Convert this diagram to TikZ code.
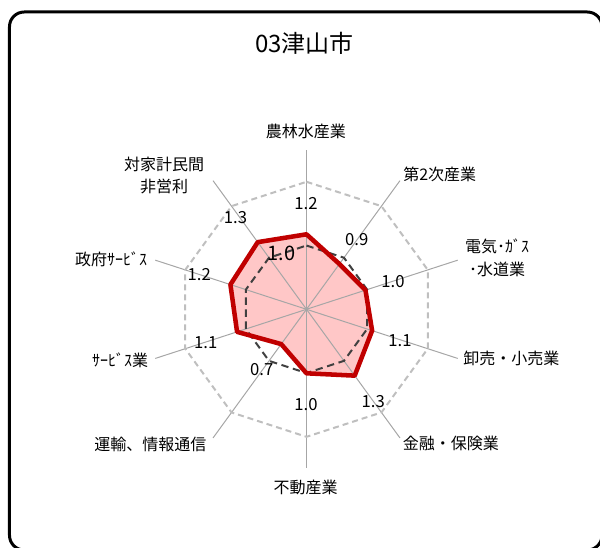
\documentclass[tikz,border=0pt]{standalone}
\usepackage{fontspec}
\setmainfont{Noto Sans CJK JP}
\definecolor{axisgray}{HTML}{A6A6A6}
\definecolor{gridgray}{HTML}{BFBFBF}
\definecolor{zenkoku}{HTML}{404040}
\definecolor{tsuyama}{HTML}{C00000}
\definecolor{tsuyamafill}{HTML}{FFC7C7}
\begin{document}
\begin{tikzpicture}[x=0.75pt, y=0.75pt,
    axisline/.style={axisgray, line width=0.75pt},
    catlabel/.style={font=\fontsize{12}{17}\selectfont, inner sep=0pt, align=center},
    numlabel/.style={font=\fontsize{12.5}{14}\selectfont, inner sep=0pt}]
    \useasboundingbox (-306.5,-237.7) rectangle (293.5,309.3);

    % frame
    \draw [line width=2.25pt, rounded corners=11pt] (-297,297.3) rectangle (295.5,-240.7);

    \node (title) [font=\fontsize{18}{20}\selectfont, inner sep=0pt] at (-2,266) {03津山市};

    % Tsuyama (fill under the axes)
    \fill [tsuyamafill] (90:75) -- (54:56) -- (18:62) -- (-18:69) -- (-54:82) -- (-90:64)
        -- (-126:43) -- (-162:73) -- (162:80) -- (126:83) -- cycle;

    % axes
    \draw [axisline] (0,0) -- (90:159);
    \draw [axisline] (0,0) -- (54:159);
    \draw [axisline] (0,0) -- (18:159);
    \draw [axisline] (0,0) -- (-18:159);
    \draw [axisline] (0,0) -- (-54:159);
    \draw [axisline] (0,0) -- (-90:159);
    \draw [axisline] (0,0) -- (-126:159);
    \draw [axisline] (0,0) -- (-162:159);
    \draw [axisline] (0,0) -- (162:159);
    \draw [axisline] (0,0) -- (126:159);

    % outer grid (2.0)
    \draw [gridgray, line width=1.5pt, dash pattern=on 4.5pt off 3pt]
        (90:127.5) -- (54:127.5) -- (18:127.5) -- (-18:127.5) -- (-54:127.5) -- (-90:127.5)
        -- (-126:127.5) -- (-162:127.5) -- (162:127.5) -- (126:127.5) -- cycle;

    % national level (1.0)
    \draw [zenkoku, line width=1.5pt, dash pattern=on 5.5pt off 3.5pt]
        (90:63.75) -- (54:63.75) -- (18:63.75) -- (-18:63.75) -- (-54:63.75) -- (-90:63.75)
        -- (-126:63.75) -- (-162:63.75) -- (162:63.75) -- (126:63.75) -- cycle;

    % Tsuyama outline
    \draw [tsuyama, line width=3.4pt, line join=round]
        (90:75) -- (54:56) -- (18:62) -- (-18:69) -- (-54:82) -- (-90:64)
        -- (-126:43) -- (-162:73) -- (162:80) -- (126:83) -- cycle;

    % category labels
    \node (agri)    [catlabel] at (-0.5,178.3) {農林水産業};
    \node (second)  [catlabel, anchor=west] at (96.5,134.8) {第2次産業};
    \node (utility) [catlabel] at (190.5,51.3) {電気･ｶﾞｽ\\･水道業};
    \node (trade)   [catlabel, anchor=west] at (156.5,-48.7) {卸売・小売業};
    \node (finance) [catlabel, anchor=west] at (96.2,-134) {金融・保険業};
    \node (estate)  [catlabel] at (-0.8,-177.7) {不動産業};
    \node (transp)  [catlabel, anchor=east] at (-99.8,-134.7) {運輸、情報通信};
    \node (service) [catlabel, anchor=east] at (-158.2,-51.2) {ｻｰﾋﾞｽ業};
    \node (govt)    [catlabel, anchor=east] at (-159.2,50.3) {政府ｻｰﾋﾞｽ};
    \node (nonprof) [catlabel] at (-142.3,133.8) {対家計民間\\非営利};

    % value labels
    \node (vagri)    [numlabel] at (-0.5,106) {1.2};
    \node (vsecond)  [numlabel] at (50.2,69.3) {0.9};
    \node (vutility) [numlabel] at (86.5,27.3) {1.0};
    \node (vtrade)   [numlabel] at (93.5,-31.4) {1.1};
    \node (vfinance) [numlabel] at (66.8,-92.4) {1.3};
    \node (vestate)  [numlabel] at (-0.5,-95.7) {1.0};
    \node (vtransp)  [numlabel] at (-44.8,-60.7) {0.7};
    \node (vservice) [numlabel] at (-100.8,-33.4) {1.1};
    \node (vgovt)    [numlabel] at (-107.2,34.3) {1.2};
    \node (vnonprof) [numlabel] at (-71,91.5) {1.3};
    \node (vbase)    [numlabel, font=\fontsize{15}{17}\selectfont] at (-24.8,56) {1.0};
\end{tikzpicture}
\end{document}
